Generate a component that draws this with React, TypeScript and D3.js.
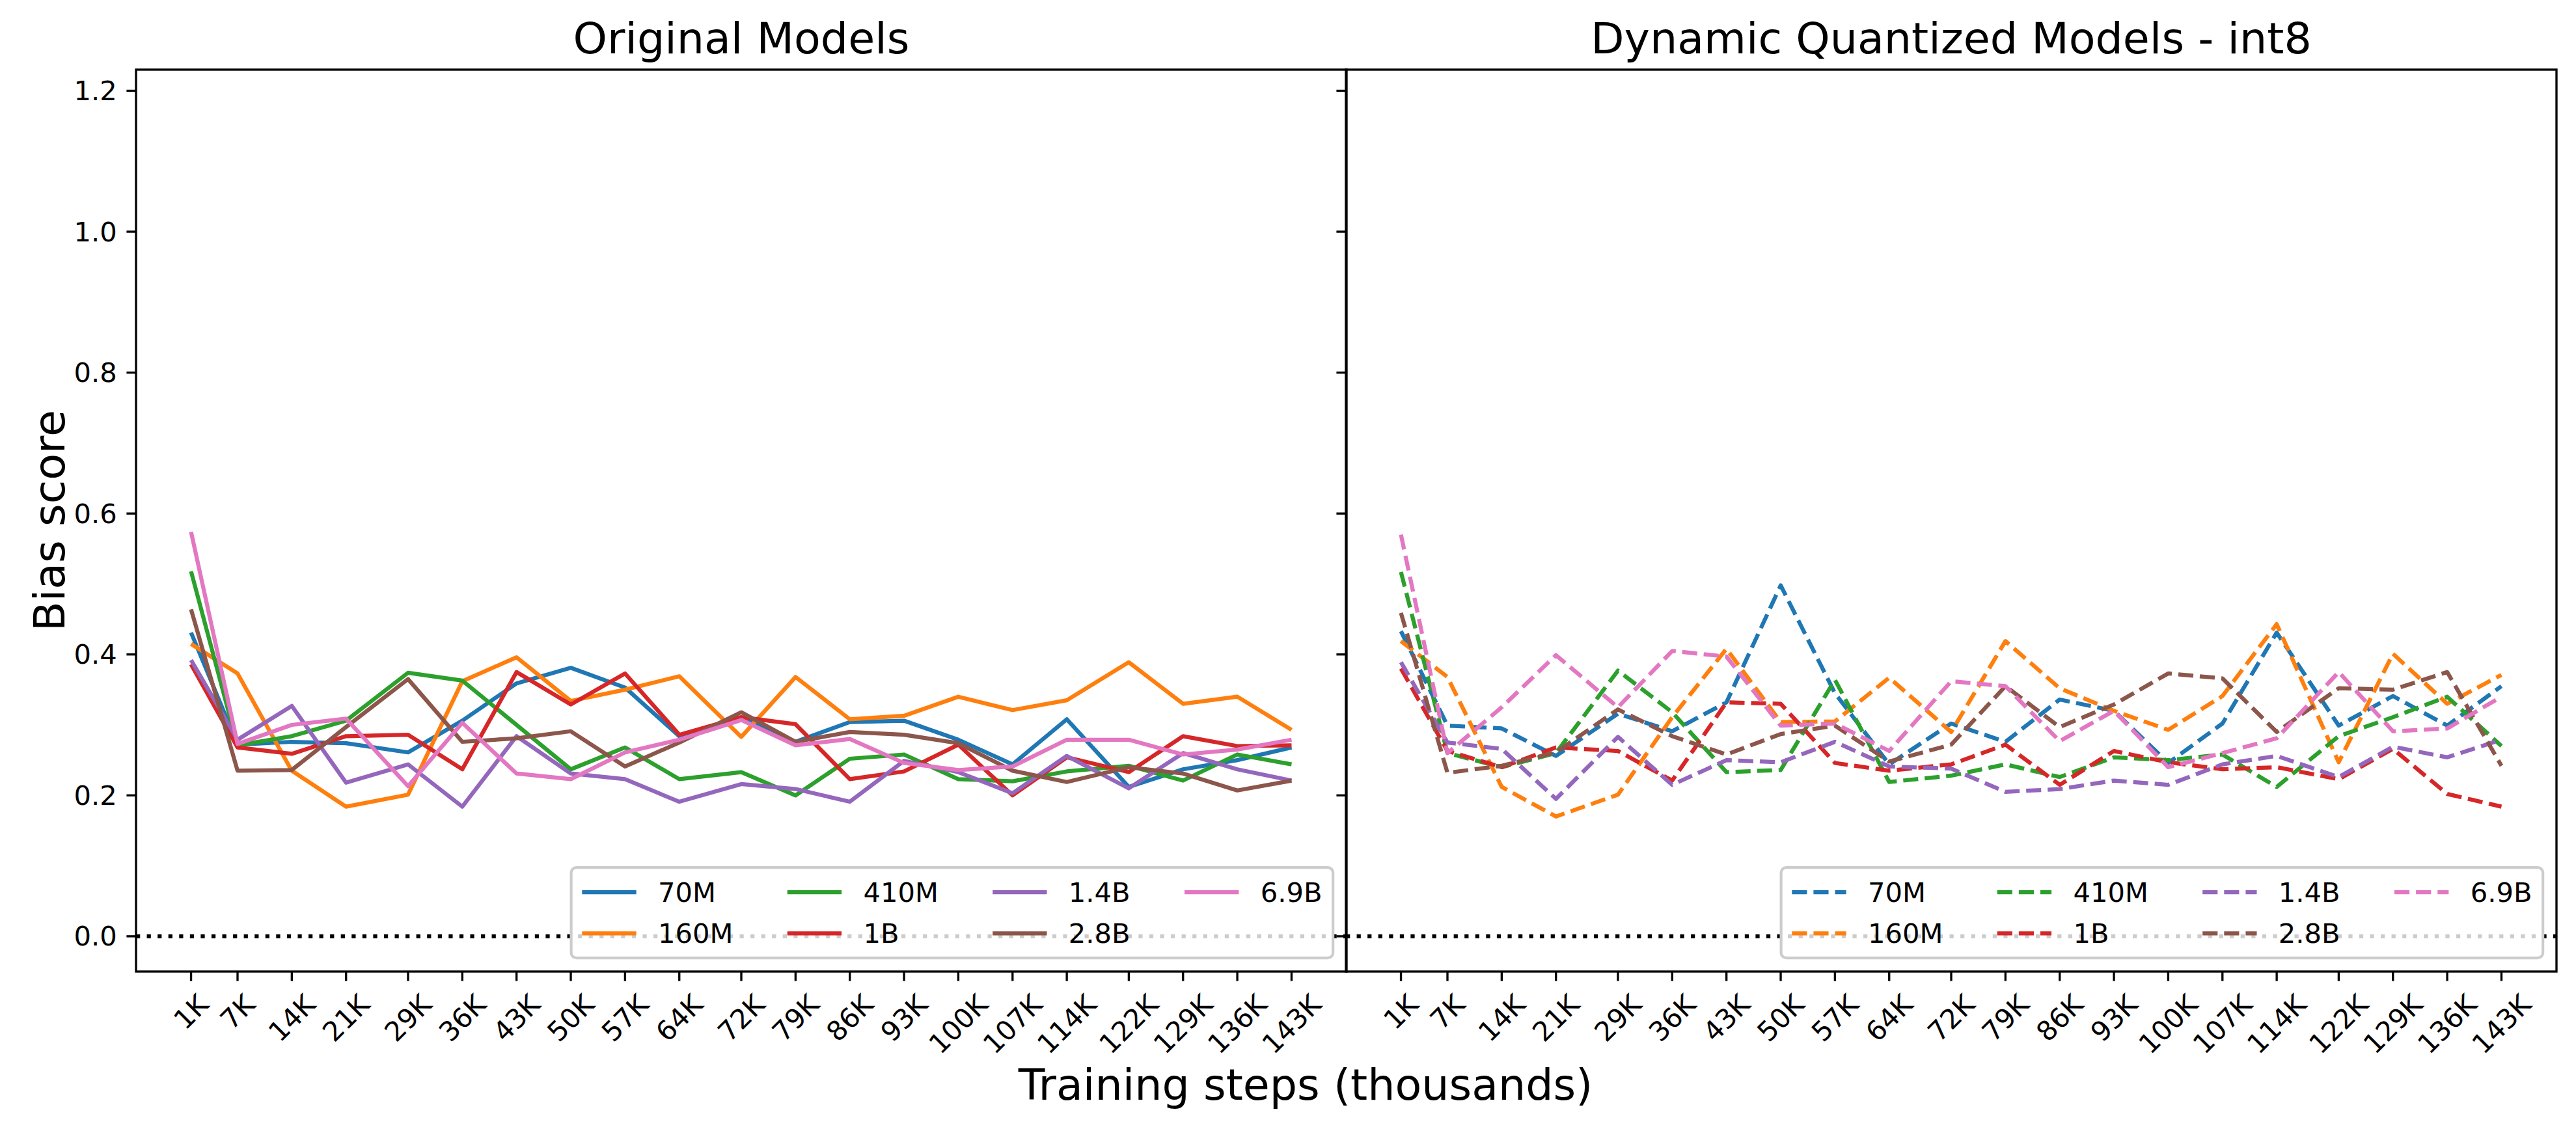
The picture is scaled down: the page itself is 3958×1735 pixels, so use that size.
import * as d3 from 'd3';

const steps = [1, 7, 14, 21, 29, 36, 43, 50, 57, 64, 72, 79, 86, 93, 100, 107, 114, 122, 129, 136, 143];
const stepLabels = steps.map(s => `${s}K`);
const yTicks = [0, 0.2, 0.4, 0.6, 0.8, 1.0, 1.2];
const models = ['70M', '160M', '410M', '1B', '1.4B', '2.8B', '6.9B'];
const colors = ['#1f77b4', '#ff7f0e', '#2ca02c', '#d62728', '#9467bd', '#8c564b', '#e377c2'];

// Original models
const orig70M = [0.431, 0.272, 0.276, 0.274, 0.261, 0.306, 0.359, 0.381, 0.353, 0.284, 0.310, 0.276, 0.304, 0.306, 0.279, 0.244, 0.308, 0.212, 0.237, 0.250, 0.268];
const orig160M = [0.415, 0.373, 0.235, 0.184, 0.201, 0.362, 0.396, 0.334, 0.350, 0.369, 0.283, 0.368, 0.308, 0.313, 0.340, 0.321, 0.335, 0.389, 0.330, 0.340, 0.293];
const orig410M = [0.518, 0.271, 0.284, 0.306, 0.374, 0.363, 0.300, 0.237, 0.268, 0.223, 0.233, 0.200, 0.252, 0.258, 0.223, 0.220, 0.234, 0.242, 0.221, 0.258, 0.244];
const orig1B = [0.386, 0.268, 0.259, 0.284, 0.286, 0.237, 0.375, 0.329, 0.373, 0.286, 0.311, 0.301, 0.223, 0.234, 0.272, 0.200, 0.254, 0.233, 0.284, 0.270, 0.271];
const orig1_4B = [0.392, 0.279, 0.327, 0.218, 0.244, 0.184, 0.284, 0.231, 0.223, 0.191, 0.216, 0.209, 0.191, 0.249, 0.233, 0.203, 0.256, 0.210, 0.260, 0.237, 0.221];
const orig2_8B = [0.464, 0.235, 0.236, 0.297, 0.365, 0.276, 0.281, 0.291, 0.241, 0.275, 0.318, 0.276, 0.290, 0.286, 0.274, 0.235, 0.219, 0.240, 0.231, 0.207, 0.221];
const orig6_9B = [0.574, 0.273, 0.300, 0.309, 0.213, 0.303, 0.231, 0.223, 0.261, 0.279, 0.307, 0.271, 0.280, 0.246, 0.236, 0.241, 0.279, 0.279, 0.258, 0.265, 0.279];

// Dynamic quantized int8
const quant70M = [0.433, 0.299, 0.295, 0.256, 0.316, 0.291, 0.332, 0.498, 0.345, 0.244, 0.302, 0.276, 0.336, 0.320, 0.246, 0.302, 0.431, 0.299, 0.341, 0.299, 0.355];
const quant160M = [0.419, 0.368, 0.212, 0.170, 0.201, 0.311, 0.408, 0.304, 0.305, 0.367, 0.290, 0.419, 0.352, 0.320, 0.293, 0.341, 0.443, 0.247, 0.401, 0.330, 0.371];
const quant410M = [0.517, 0.260, 0.240, 0.260, 0.377, 0.318, 0.233, 0.236, 0.364, 0.219, 0.228, 0.244, 0.226, 0.254, 0.250, 0.258, 0.212, 0.284, 0.311, 0.340, 0.270];
const quant1B = [0.380, 0.263, 0.240, 0.268, 0.263, 0.221, 0.332, 0.330, 0.246, 0.235, 0.244, 0.272, 0.215, 0.263, 0.247, 0.237, 0.240, 0.223, 0.266, 0.202, 0.184];
const quant1_4B = [0.389, 0.275, 0.266, 0.195, 0.283, 0.215, 0.250, 0.247, 0.276, 0.241, 0.238, 0.205, 0.209, 0.221, 0.215, 0.244, 0.256, 0.226, 0.269, 0.254, 0.279];
const quant2_8B = [0.459, 0.232, 0.242, 0.261, 0.322, 0.284, 0.258, 0.287, 0.299, 0.248, 0.272, 0.355, 0.297, 0.329, 0.373, 0.366, 0.290, 0.352, 0.350, 0.375, 0.242];
const quant6_9B = [0.570, 0.260, 0.325, 0.399, 0.325, 0.405, 0.397, 0.299, 0.302, 0.263, 0.362, 0.355, 0.277, 0.320, 0.240, 0.260, 0.281, 0.375, 0.291, 0.295, 0.340];

const originalSeries = [orig70M, orig160M, orig410M, orig1B, orig1_4B, orig2_8B, orig6_9B];
const quantSeries = [quant70M, quant160M, quant410M, quant1B, quant1_4B, quant2_8B, quant6_9B];

const W = 3958;
const H = 1735;
const FONT = 'DejaVu Sans, Verdana, sans-serif';
const pt = 300 / 72; // px per point at 300 dpi
const tickFs = 10 * pt;
const bigFs = 16 * pt;

const panelTop = 107;
const panelBottom = 1493;
const panelW = 1860;
const panelLefts = [209, 2068];

let ctx: CanvasRenderingContext2D | null = null;
const textWidth = (s: string, fs: number) => {
  if (!ctx) ctx = document.createElement('canvas').getContext('2d');
  if (!ctx) return s.length * fs * 0.6;
  ctx.font = `${fs}px ${FONT}`;
  return ctx.measureText(s).width;
};

const y = d3.scaleLinear().domain([-0.05, 1.23]).range([panelBottom, panelTop]);

const Panel = ({ left, title, series, dashed, showYLabels }: {
  left: number; title: string; series: number[][]; dashed: boolean; showYLabels: boolean;
}) => {
  const x = d3.scaleLinear().domain([-6.1, 150.1]).range([left, left + panelW]);
  const line = d3.line<number>().x((_, i) => x(steps[i])).y(d => y(d));
  const tickLen = 3.5 * pt;
  const lw = 1.5 * pt;
  const dash = dashed ? `${3.7 * lw},${1.6 * lw}` : undefined;

  // legend layout (matplotlib style, ncol=4, lower right)
  const handleLen = 2 * tickFs;
  const handlePad = 0.8 * tickFs;
  const colSpace = 2 * tickFs;
  const borderPad = 0.4 * tickFs;
  const rowH = 42.4;
  const labelSpace = 0.5 * tickFs;
  const nCol = 4;
  const nRow = 2;
  const cols = d3.range(nCol).map(c => d3.range(nRow).map(r => c * nRow + r).filter(i => i < models.length));
  const colW = cols.map(idx => handleLen + handlePad + d3.max(idx, i => textWidth(models[i], tickFs))!);
  const legW = 2 * borderPad + d3.sum(colW) + colSpace * (nCol - 1);
  const legH = 2 * borderPad + nRow * rowH + labelSpace * (nRow - 1);
  const legX = left + panelW - 0.5 * tickFs - legW;
  const legY = panelBottom - 0.5 * tickFs - legH;
  const colX = colW.map((_, c) => legX + borderPad + d3.sum(colW.slice(0, c)) + colSpace * c);

  const labelTop = panelBottom + tickLen + 3.5 * pt;

  return (
    <g>
      <text x={left + panelW / 2} y={82} textAnchor="middle" fontSize={bigFs} fontFamily={FONT}>{title}</text>

      {series.map((s, k) => (
        <path key={k} d={line(s) || ''} fill="none" stroke={colors[k]} strokeWidth={lw}
          strokeDasharray={dash} strokeLinejoin="round" />
      ))}

      <line x1={left} x2={left + panelW} y1={y(0)} y2={y(0)} stroke="#000" strokeWidth={lw}
        strokeDasharray={`${1 * lw},${1.65 * lw}`} />

      {/* legend */}
      <rect x={legX} y={legY} width={legW} height={legH} rx={8} fill="#fff" fillOpacity={0.8}
        stroke="#cccccc" strokeWidth={1 * pt} />
      {cols.map((idx, c) => idx.map((i, r) => {
        const cy = legY + borderPad + rowH / 2 + r * (rowH + labelSpace);
        return (
          <g key={i}>
            <line x1={colX[c]} x2={colX[c] + handleLen} y1={cy} y2={cy} stroke={colors[i]} strokeWidth={lw}
              strokeDasharray={dash} />
            <text x={colX[c] + handleLen + handlePad} y={cy} dominantBaseline="central" fontSize={tickFs}
              fontFamily={FONT}>{models[i]}</text>
          </g>
        );
      }))}

      {/* spines */}
      <rect x={left} y={panelTop} width={panelW} height={panelBottom - panelTop} fill="none" stroke="#000"
        strokeWidth={0.8 * pt} />

      {/* y ticks */}
      {yTicks.map(t => (
        <g key={t}>
          <line x1={left - tickLen} x2={left} y1={y(t)} y2={y(t)} stroke="#000" strokeWidth={0.8 * pt} />
          {showYLabels && (
            <text x={left - tickLen - 3.5 * pt} y={y(t)} textAnchor="end" dominantBaseline="central"
              fontSize={tickFs} fontFamily={FONT}>{t.toFixed(1)}</text>
          )}
        </g>
      ))}

      {/* x ticks */}
      {steps.map((s, i) => {
        const w = textWidth(stepLabels[i], tickFs);
        const h = 0.95 * tickFs;
        const cy = labelTop + (w + h) * Math.SQRT1_2 / 2;
        return (
          <g key={s}>
            <line x1={x(s)} x2={x(s)} y1={panelBottom} y2={panelBottom + tickLen} stroke="#000" strokeWidth={0.8 * pt} />
            <text x={x(s)} y={cy} textAnchor="middle" dominantBaseline="central" fontSize={tickFs}
              fontFamily={FONT} transform={`rotate(-45, ${x(s)}, ${cy})`}>{stepLabels[i]}</text>
          </g>
        );
      })}
    </g>
  );
};

export default function App() {
  return (
    <svg width={W} height={H} viewBox={`0 0 ${W} ${H}`}
      style={{ position: 'absolute', left: 0, top: 0, background: '#fff' }}>
      <rect width={W} height={H} fill="#fff" />
      <Panel left={panelLefts[0]} title="Original Models" series={originalSeries} dashed={false} showYLabels />
      <Panel left={panelLefts[1]} title="Dynamic Quantized Models - int8" series={quantSeries} dashed showYLabels={false} />
      <text transform={`translate(76, ${(panelTop + panelBottom) / 2}) rotate(-90)`} textAnchor="middle"
        dominantBaseline="central" fontSize={bigFs} fontFamily={FONT}>Bias score</text>
      <text x={2006} y={1690} textAnchor="middle" fontSize={bigFs} fontFamily={FONT}>Training steps (thousands)</text>
    </svg>
  );
}
